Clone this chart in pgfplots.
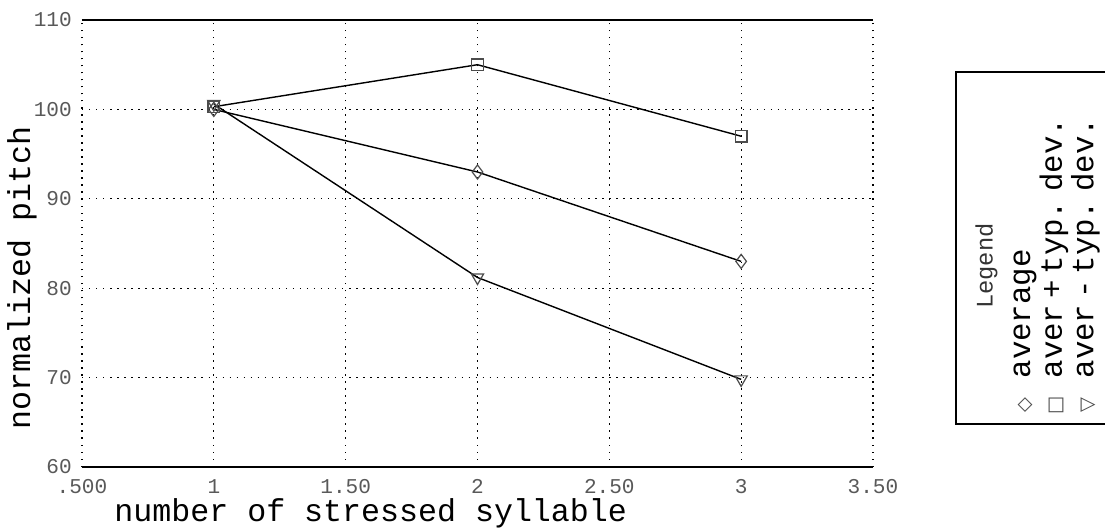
\documentclass[border=0pt]{standalone}
\usepackage{fontspec}
\setmainfont{Liberation Mono}[WordSpace={1,0,0}]
\newfontfamily\symfont{DejaVu Sans}
\usepackage{pgfplots}
\pgfplotsset{compat=1.18}
\begin{document}
\begin{tikzpicture}
\useasboundingbox (-1.64,-1.24) rectangle (20.46,9.34);
\begin{axis}[
  width=15.82cm,height=8.94cm,scale only axis,
  at={(0,0)},anchor=south west,
  xmin=0.5,xmax=3.5,ymin=60,ymax=110,
  xtick={0.5,1,1.5,2,2.5,3,3.5},
  xticklabels={.500,1,1.50,2,2.50,3,3.50},
  ytick={60,70,80,90,100,110},
  yticklabels={60,70,80,90,100,110},
  grid=major,
  major grid style={black,line width=0.7pt,dash pattern=on 0.8pt off 3.2pt},
  separate axis lines,
  x axis line style={line width=1.3pt},
  y axis line style={line width=0.7pt,dash pattern=on 0.8pt off 3.2pt},
  tick style={draw=none},
  /pgf/number format/assume math mode=true,
  tick label style={font=\fontsize{12}{12}\selectfont,text=black!65},
  xticklabel style={yshift=-0.12cm},
  yticklabel style={xshift=-0.08cm},
  xlabel={number of stressed syllable},
  ylabel={normalized pitch},
  label style={font=\fontsize{18}{18}\selectfont},
  xlabel style={at={(axis description cs:0.365,-0.103)},anchor=center},
  ylabel style={at={(axis description cs:-0.076,0.423)},anchor=center},
]
% average
\addplot[black,line width=0.8pt,mark=diamond,mark size=4pt,
  mark options={solid,draw=black!70,line width=0.7pt}]
  coordinates {(1,100)(2,93)(3,83)};
% aver + typ. dev.
\addplot[black,line width=0.8pt,mark=square,mark size=3.3pt,
  mark options={solid,draw=black!70,line width=0.7pt}]
  coordinates {(1,100.3)(2,105)(3,97)};
% aver - typ. dev.
\addplot[black,line width=0.8pt,mark=triangle,mark size=4pt,
  mark options={solid,draw=black!70,line width=0.7pt,rotate=180}]
  coordinates {(1,100.6)(2,81.2)(3,69.8)};
\end{axis}
% legend box, turned on its side as in the original printout
\node[rotate=90,anchor=north west,draw=black,line width=0.9pt,
  inner xsep=0.2cm,inner ysep=0.3cm,text width=6.64cm,align=left]
  at (17.46,0.84) {%
  \fontsize{17.5}{17.8}\selectfont
  \begin{tabular}{@{}c@{\hspace{10pt}}l@{}}
  \multicolumn{2}{c}{\fontsize{13.5}{14}\selectfont\color{black!80}Legend}\\[3.5pt]
  {\symfont\fontsize{11}{11}\selectfont\color{black!70}◇} & average\\
  {\symfont\fontsize{11}{11}\selectfont\color{black!70}□} & aver + typ. dev.\\
  {\symfont\fontsize{11}{11}\selectfont\color{black!70}▽} & aver - typ. dev.
  \end{tabular}};
\end{tikzpicture}
\end{document}
